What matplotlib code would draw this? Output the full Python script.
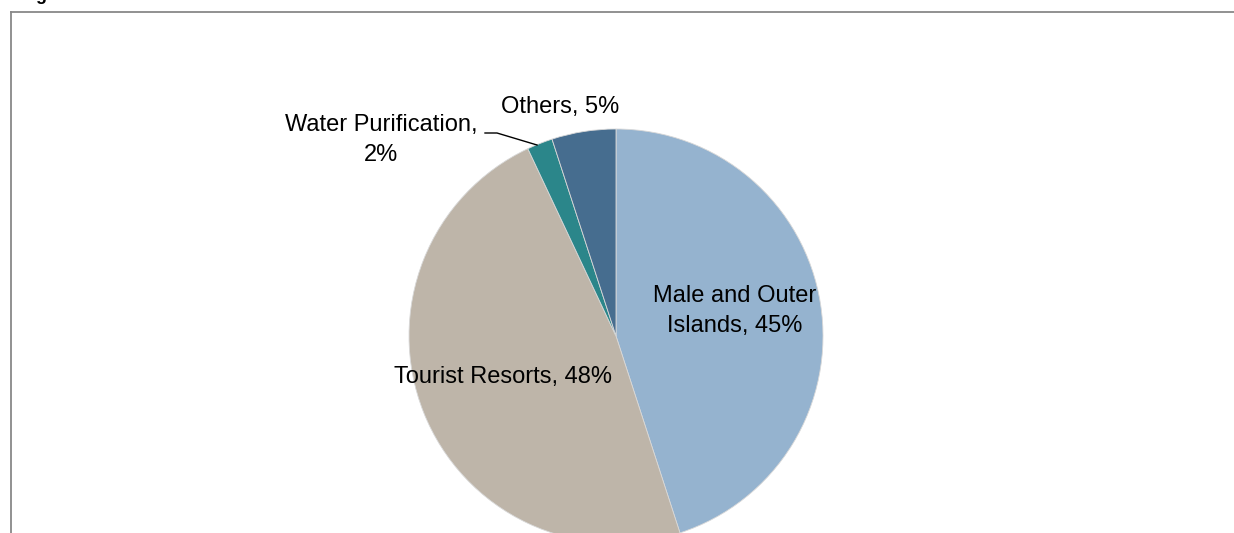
import matplotlib.pyplot as plt

# slices, clockwise from 12 o'clock
labels = ['Male and Outer\nIslands', 'Tourist Resorts', 'Water Purification,\n', 'Others']
shares = [45, 48, 2, 5]
colors = ['#95B3CF', '#BEB5A9', '#2B868A', '#466D8F']

W, H = 1234, 533
fig = plt.figure(figsize=(W / 100, H / 100), dpi=100)
ax = fig.add_axes([0, 0, 1, 1])

# pixel coordinates, y measured upward
cx, cy, r = 616, H - 336, 207
wedges, _ = ax.pie(shares, colors=colors, startangle=90, counterclock=False,
                   center=(cx, cy), radius=r,
                   wedgeprops=dict(linewidth=0.6, edgecolor='#d8d8d8'))
ax.set_xlim(0, W)
ax.set_ylim(0, H)
ax.set_aspect('equal')
ax.axis('off')

font = dict(family=['Liberation Sans', 'DejaVu Sans'], fontsize=17, color='black')
ax.text(735, H - 311, f'Male and Outer\nIslands, {shares[0]}%', ha='center', va='center',
        linespacing=1.45, **font)
ax.text(503, H - 377, f'Tourist Resorts, {shares[1]}%', ha='center', va='center', **font)
ax.text(560, H - 107, f'Others, {shares[3]}%', ha='center', va='center', **font)
ax.text(381, H - 140, f'Water Purification,\n{shares[2]}%', ha='center', va='center',
        linespacing=1.45, **font)
# leader line for the small slice
ax.plot([485, 497, 537], [H - 133, H - 133, H - 145], color='black', lw=1)

# frame of the chart area (cropped)
ax.plot([11, W], [H - 12, H - 12], color='#888888', lw=1.3)
ax.plot([11, 11], [H - 12, 0], color='#888888', lw=1.3)

# cut-off title above
ax.text(21, H + 0.5, 'Figure', ha='left', va='baseline', fontweight='bold',
        family=['Liberation Sans', 'DejaVu Sans'], fontsize=13, clip_on=False)

fig.savefig('out.png', dpi=100)
